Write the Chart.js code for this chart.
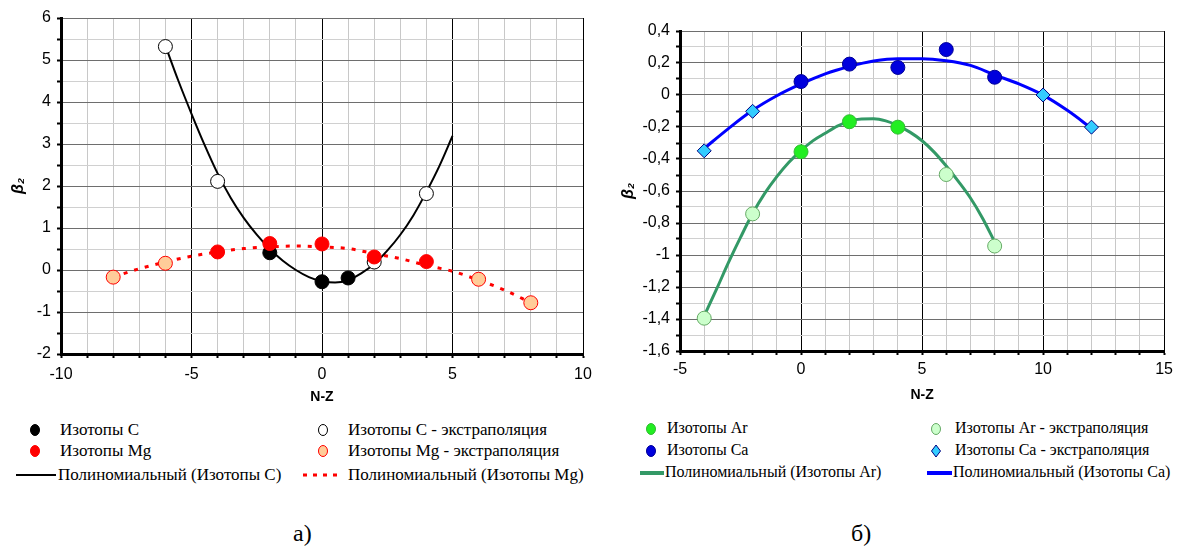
<!DOCTYPE html>
<html>
<head>
<meta charset="utf-8">
<script src="https://cdn.jsdelivr.net/npm/chart.js@4/dist/chart.umd.min.js"></script>
<style>
  body { margin: 0; background: #fff; width: 1178px; height: 550px; position: relative; overflow: hidden; }
  .box { position: absolute; top: 0; }
  .leg { position: absolute; font-family: "Liberation Serif", "Times New Roman", serif; font-size: 17px; color: #000; white-space: nowrap; line-height: 1; }
  .leg.r { font-size: 16px; }
  .mk { position: absolute; }
  .cap { position: absolute; font-family: "Liberation Serif", serif; font-size: 24px; }
</style>
</head>
<body>
<div class="box" style="left:0;width:600px;height:410px"><canvas id="left"></canvas></div>
<div class="box" style="left:600px;width:578px;height:410px"><canvas id="right"></canvas></div>
<div id="legends"></div>
<div class="cap" style="left:293px;top:520px">а)</div>
<div class="cap" style="left:851px;top:520px">б)</div>
<script>
// ---- данные: рисунок а) ----
const cX = [-2, 0, 1];
const cY = [0.41, -0.28, -0.19];
const cExtX = [-6, -4, 2, 4];
const cExtY = [5.32, 2.11, 0.19, 1.82];
const mgX = [-4, -2, 0, 2, 4];
const mgY = [0.43, 0.63, 0.62, 0.31, 0.2];
const mgExtX = [-8, -6, 6, 8];
const mgExtY = [-0.17, 0.16, -0.22, -0.78];
// полиномиальные тренды
const cPolyX = [-6, -5.5, -5, -4.5, -4, -3.5, -3, -2.5, -2, -1.5, -1, -0.5, 0, 0.5, 1, 1.5, 2, 2.5, 3, 3.5, 4, 4.5, 5];
const cPolyY = [5.34, 4.5, 3.72, 2.98, 2.3, 1.72, 1.24, 0.84, 0.5, 0.22, 0.0, -0.17, -0.27, -0.3, -0.24, -0.08, 0.14, 0.46, 0.84, 1.3, 1.86, 2.48, 3.19];
const mgPolyX = [-8, -7, -6, -5, -4, -3, -2, -1, 0, 1, 2, 3, 4, 5, 6, 7, 8];
const mgPolyY = [-0.17, 0.03, 0.19, 0.33, 0.43, 0.51, 0.55, 0.57, 0.55, 0.51, 0.39, 0.27, 0.11, -0.03, -0.24, -0.48, -0.78];

// ---- данные: рисунок б) ----
const arX = [0, 2, 4];
const arY = [-0.355, -0.167, -0.201];
const arExtX = [-4, -2, 6, 8];
const arExtY = [-1.395, -0.743, -0.497, -0.944];
const caX = [0, 2, 4, 6, 8];
const caY = [0.084, 0.193, 0.172, 0.284, 0.111];
const caExtX = [-4, -2, 10, 12];
const caExtY = [-0.349, -0.102, 0.0, -0.201];
const arPolyX = [-4, -3.5, -3, -2.5, -2, -1.5, -1, -0.5, 0, 0.5, 1, 1.5, 2, 2.5, 3, 3.5, 4, 4.5, 5, 5.5, 6, 6.5, 7, 7.5, 8];
const arPolyY = [-1.38, -1.217, -1.048, -0.89, -0.741, -0.615, -0.51, -0.42, -0.347, -0.285, -0.239, -0.195, -0.163, -0.15, -0.149, -0.162, -0.191, -0.232, -0.286, -0.357, -0.444, -0.54, -0.644, -0.77, -0.918];
const caPolyX = [-4, -3, -2, -1, 0, 1, 2, 3, 4, 5, 6, 7, 8, 9, 10, 11, 12];
const caPolyY = [-0.334, -0.21, -0.096, -0.005, 0.069, 0.132, 0.178, 0.212, 0.227, 0.227, 0.214, 0.185, 0.126, 0.069, -0.001, -0.096, -0.208];

const pts = (xs, ys) => xs.map((x, i) => ({ x, y: ys[i] }));
const tickFont = { family: "'Liberation Sans', Arial, sans-serif", size: 16 };
const titleFont = { family: "'Liberation Sans', Arial, sans-serif", size: 14, weight: "bold" };

function scatterSet(data, fill, border, radius, style) {
  return {
    data, showLine: false, pointStyle: style || "circle",
    pointRadius: radius, pointBackgroundColor: fill, pointBorderColor: border, pointBorderWidth: 1,
  };
}
function trendSet(data, color, width, dash) {
  return {
    data, showLine: true, pointRadius: 0, borderColor: color, borderWidth: width,
    borderDash: dash || [], cubicInterpolationMode: "monotone", fill: false,
  };
}

function makeChart(id, o) {
  new Chart(document.getElementById(id), {
    type: "scatter",
    data: { datasets: o.datasets },
    options: {
      responsive: true, maintainAspectRatio: false, animation: false,
      layout: { padding: o.padding },
      plugins: { legend: { display: false }, tooltip: { enabled: false } },
      scales: {
        x: {
          min: o.xMin, max: o.xMax,
          ticks: {
            stepSize: 1, autoSkip: false, color: "#000", font: tickFont, padding: o.xTickPad, maxRotation: 0,
            callback: (v) => (v % 5 === 0 ? String(v) : ""),
          },
          grid: {
            color: (c) => (c.tick && c.tick.value % 5 === 0 ? "#000" : "#c8c8c8"),
            tickColor: "#000", tickLength: 4, tickWidth: 2, lineWidth: 1,
          },
          border: { color: "#000", width: 3 },
          title: { display: true, text: "N-Z", color: "#000", font: titleFont, padding: { top: 2, bottom: o.xTitlePad } },
          afterFit: (s) => { s.height = o.xAxisH; },
        },
        y: {
          min: o.yMin, max: o.yMax,
          ticks: {
            stepSize: o.yStep, autoSkip: false, color: "#000", font: tickFont, padding: 6,
            callback: o.yLabel,
          },
          grid: {
            color: (c) => (c.tick && o.yMajor(c.tick.value) ? "#6e6e6e" : "#d0d0d0"),
            tickColor: "#000", tickLength: 4, tickWidth: 2, lineWidth: 1,
          },
          border: { color: "#000", width: 3 },
          title: {
            display: true, text: "β₂", color: "#000",
            font: { family: "'Liberation Sans', Arial, sans-serif", size: 16, weight: "bold", style: "italic" },
            padding: o.yTitlePad,
          },
          afterFit: (s) => { s.width = o.yAxisW; },
        },
      },
    },
  });
}

makeChart("left", {
  padding: { left: 0, top: 18, right: 17, bottom: 0 },
  xMin: -10, xMax: 10, yMin: -2, yMax: 6, yStep: 0.5,
  xAxisH: 56, yAxisW: 61, yTitlePad: { top: 9, bottom: 0 },
  xTickPad: 7, xTitlePad: 4,
  yLabel: (v) => (Math.abs(v % 1) < 1e-9 ? String(v) : ""),
  yMajor: (v) => Math.abs(v % 1) < 1e-9,
  datasets: [
    scatterSet(pts(mgX, mgY), "#ff0000", "#ff0000", 7),
    scatterSet(pts(mgExtX, mgExtY), "#ffcc99", "#ff0000", 7),
    scatterSet(pts(cX, cY), "#000000", "#000000", 7),
    scatterSet(pts(cExtX, cExtY), "#ffffff", "#000000", 7),
    trendSet(pts(cPolyX, cPolyY), "#000000", 2),
    trendSet(pts(mgPolyX, mgPolyY), "#ff0000", 3, [4, 7]),
  ],
});

makeChart("right", {
  padding: { left: 0, top: 31, right: 10, bottom: 0 },
  xMin: -5, xMax: 15, yMin: -1.6, yMax: 0.4, yStep: 0.1,
  xAxisH: 59, yAxisW: 80, yTitlePad: { top: 19, bottom: 0 },
  xTickPad: 5, xTitlePad: 6,
  yLabel: (v) => {
    const k = Math.round(v * 10);
    return k % 2 === 0 ? String(k / 10).replace(".", ",") : "";
  },
  yMajor: (v) => Math.round(v * 10) % 2 === 0,
  datasets: [
    scatterSet(pts(caX, caY), "#0000dd", "#000099", 7),
    scatterSet(pts(caExtX, caExtY), "#33ccff", "#000080", 7, "rectRot"),
    scatterSet(pts(arX, arY), "#22ee22", "#33bb33", 7),
    scatterSet(pts(arExtX, arExtY), "#ccffcc", "#66aa66", 7),
    trendSet(pts(caPolyX, caPolyY), "#0000ff", 3),
    trendSet(pts(arPolyX, arPolyY), "#339966", 3),
  ],
});

// ---- легенды ----
const legendItems = [
  { x: 35, y: 430, mk: "dot", fill: "#000", stroke: "#000", text: "Изотопы C", tx: 60 },
  { x: 323, y: 430, mk: "dot", fill: "#fff", stroke: "#000", text: "Изотопы C - экстраполяция", tx: 348 },
  { x: 35, y: 451, mk: "dot", fill: "#f00", stroke: "#f00", text: "Изотопы Mg", tx: 60 },
  { x: 323, y: 451, mk: "dot", fill: "#ffcc99", stroke: "#f00", text: "Изотопы Mg - экстраполяция", tx: 348 },
  { x: 16, x2: 56, y: 475, mk: "line", stroke: "#000", w: 2, text: "Полиномиальный (Изотопы C)", tx: 58 },
  { x: 303, x2: 343, y: 475, mk: "line", stroke: "#f00", w: 3, dash: "4 6", text: "Полиномиальный (Изотопы Mg)", tx: 348 },
  { x: 651, y: 429, mk: "dot", fill: "#22ee22", stroke: "#33bb33", text: "Изотопы Ar", tx: 667, r: true },
  { x: 936, y: 429, mk: "dot", fill: "#ccffcc", stroke: "#66aa66", text: "Изотопы Ar - экстраполяция", tx: 955, r: true },
  { x: 651, y: 451, mk: "dot", fill: "#0000dd", stroke: "#000099", text: "Изотопы Ca", tx: 667, r: true },
  { x: 936, y: 451, mk: "diamond", fill: "#33ccff", stroke: "#000080", text: "Изотопы Ca - экстраполяция", tx: 955, r: true },
  { x: 640, x2: 664, y: 473, mk: "line", stroke: "#339966", w: 4, text: "Полиномиальный (Изотопы Ar)", tx: 665, r: true },
  { x: 927, x2: 952, y: 473, mk: "line", stroke: "#0000ff", w: 4, text: "Полиномиальный (Изотопы Ca)", tx: 953, r: true },
];

const legRoot = document.getElementById("legends");
legendItems.forEach((it) => {
  const svgNS = "http://www.w3.org/2000/svg";
  const svg = document.createElementNS(svgNS, "svg");
  svg.setAttribute("class", "mk");
  svg.setAttribute("width", "60");
  svg.setAttribute("height", "20");
  let shape;
  if (it.mk === "line") {
    svg.style.left = it.x + "px";
    svg.style.top = it.y - 10 + "px";
    shape = document.createElementNS(svgNS, "line");
    shape.setAttribute("x1", 0); shape.setAttribute("x2", it.x2 - it.x);
    shape.setAttribute("y1", 10); shape.setAttribute("y2", 10);
    shape.setAttribute("stroke", it.stroke);
    shape.setAttribute("stroke-width", it.w);
    if (it.dash) shape.setAttribute("stroke-dasharray", it.dash);
  } else {
    svg.style.left = it.x - 10 + "px";
    svg.style.top = it.y - 10 + "px";
    if (it.mk === "dot") {
      shape = document.createElementNS(svgNS, "ellipse");
      shape.setAttribute("cx", 10); shape.setAttribute("cy", 10);
      shape.setAttribute("rx", 4.5); shape.setAttribute("ry", 5.5);
    } else {
      shape = document.createElementNS(svgNS, "polygon");
      shape.setAttribute("points", "10,4 14.5,10 10,16 5.5,10");
    }
    shape.setAttribute("fill", it.fill);
    shape.setAttribute("stroke", it.stroke);
    shape.setAttribute("stroke-width", 1);
  }
  svg.appendChild(shape);
  legRoot.appendChild(svg);
  const t = document.createElement("div");
  t.className = it.r ? "leg r" : "leg";
  t.style.left = it.tx + "px";
  t.style.top = it.y - 9 + "px";
  t.textContent = it.text;
  legRoot.appendChild(t);
});
</script>
</body>
</html>
